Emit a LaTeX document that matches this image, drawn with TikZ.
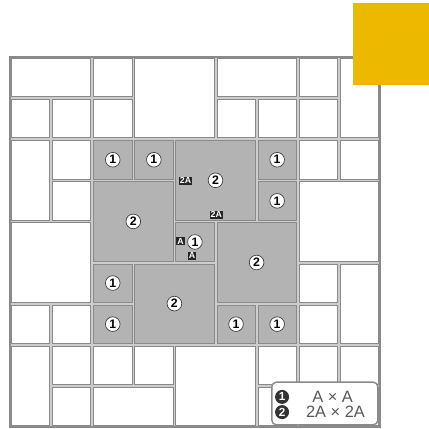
\documentclass[tikz,border=0pt]{standalone}
\usepackage{fontspec}
\setmainfont{Liberation Sans}
\usetikzlibrary{positioning}
\definecolor{tilegray}{HTML}{B3B3B3}
\definecolor{grout}{HTML}{CDCDCD}
\definecolor{edge}{HTML}{8A8A8A}
\definecolor{sun}{HTML}{EDB900}

\begin{document}
\begin{tikzpicture}[x=1.233cm,y=-1.233cm,
tile/.style={draw=edge,line width=0.6pt},
plain/.style={tile,fill=white},
shaded/.style={tile,fill=tilegray},
num/.style={circle,draw=black!75,fill=white,line width=0.6pt,inner sep=0pt,
 minimum size=4.4mm,font=\fontsize{10.5}{10.5}\selectfont\bfseries},
tag/.style={fill=black!85,text=white,inner sep=0.9pt,font=\fontsize{7.5}{8}\selectfont\bfseries},
key/.style={circle,fill=black!80,text=white,inner sep=0pt,minimum size=4.2mm,
 font=\fontsize{10}{10}\selectfont\bfseries},
keytext/.style={text=black!65,font=\fontsize{14}{14}\selectfont}]
\useasboundingbox (-0.2433,-1.3869) rectangle (10.195,9.051);
% grout under the tiles
\fill[grout] (0,0) rectangle (9,9);
% white tiles: x/y/width/height
\foreach \x/\y/\w/\h in {0/0/2/1,2/0/1/1,3/0/2/2,5/0/2/1,7/0/1/1,8/0/1/2,
 0/1/1/1,1/1/1/1,2/1/1/1,5/1/1/1,6/1/1/1,7/1/1/1,
 0/2/1/2,1/2/1/1,7/2/1/1,8/2/1/1,1/3/1/1,7/3/2/2,0/4/2/2,
 7/5/1/1,8/5/1/2,0/6/1/1,1/6/1/1,7/6/1/1,
 0/7/1/2,1/7/1/1,2/7/1/1,3/7/1/1,4/7/2/2,6/7/1/1,7/7/1/1,8/7/1/1,
 1/8/1/1,2/8/2/1,6/8/1/1,7/8/2/1}
 \draw[plain] (\x+0.035,\y+0.035) rectangle (\x+\w-0.035,\y+\h-0.035);
% A x A tiles
\foreach \x/\y in {2/2,3/2,6/2,6/3,4/4,2/5,2/6,5/6,6/6}{
 \draw[shaded] (\x+0.035,\y+0.035) rectangle ++(0.93,0.93);
 \node[num] (one-\x-\y) at (\x+0.5,\y+0.5) {1};}
% 2A x 2A tiles
\foreach \x/\y in {4/2,2/3,5/4,3/5}{
 \draw[shaded] (\x+0.035,\y+0.035) rectangle ++(1.93,1.93);
 \node[num] (two-\x-\y) at (\x+1,\y+1) {2};}
\draw[edge,line width=1.3pt] (0,0) rectangle (9,9);
% size tags
\node[tag] (tagwest) at (4.27,3.01) {2A};
\node[tag] (tagsouth) at (5.02,3.84) {2A};
\node[tag] (tagaleft) at (4.15,4.48) {A};
\node[tag] (tagabelow) at (4.43,4.84) {A};
% legend
\draw[edge,line width=1.2pt,rounded corners=4pt,fill=white] (6.37,7.91) rectangle (8.95,8.95);
\node[key] (keyone) at (6.62,8.27) {1};
\node[key] (keytwo) at (6.62,8.64) {2};
\node[keytext] (sizeone) at (7.85,8.27) {A \texttimes{} A};
\node[keytext] (sizetwo) at (7.92,8.64) {2A \texttimes{} 2A};
% corner square
\fill[sun] (8.345,-1.314) rectangle (10.195,0.681);
\end{tikzpicture}
\end{document}
